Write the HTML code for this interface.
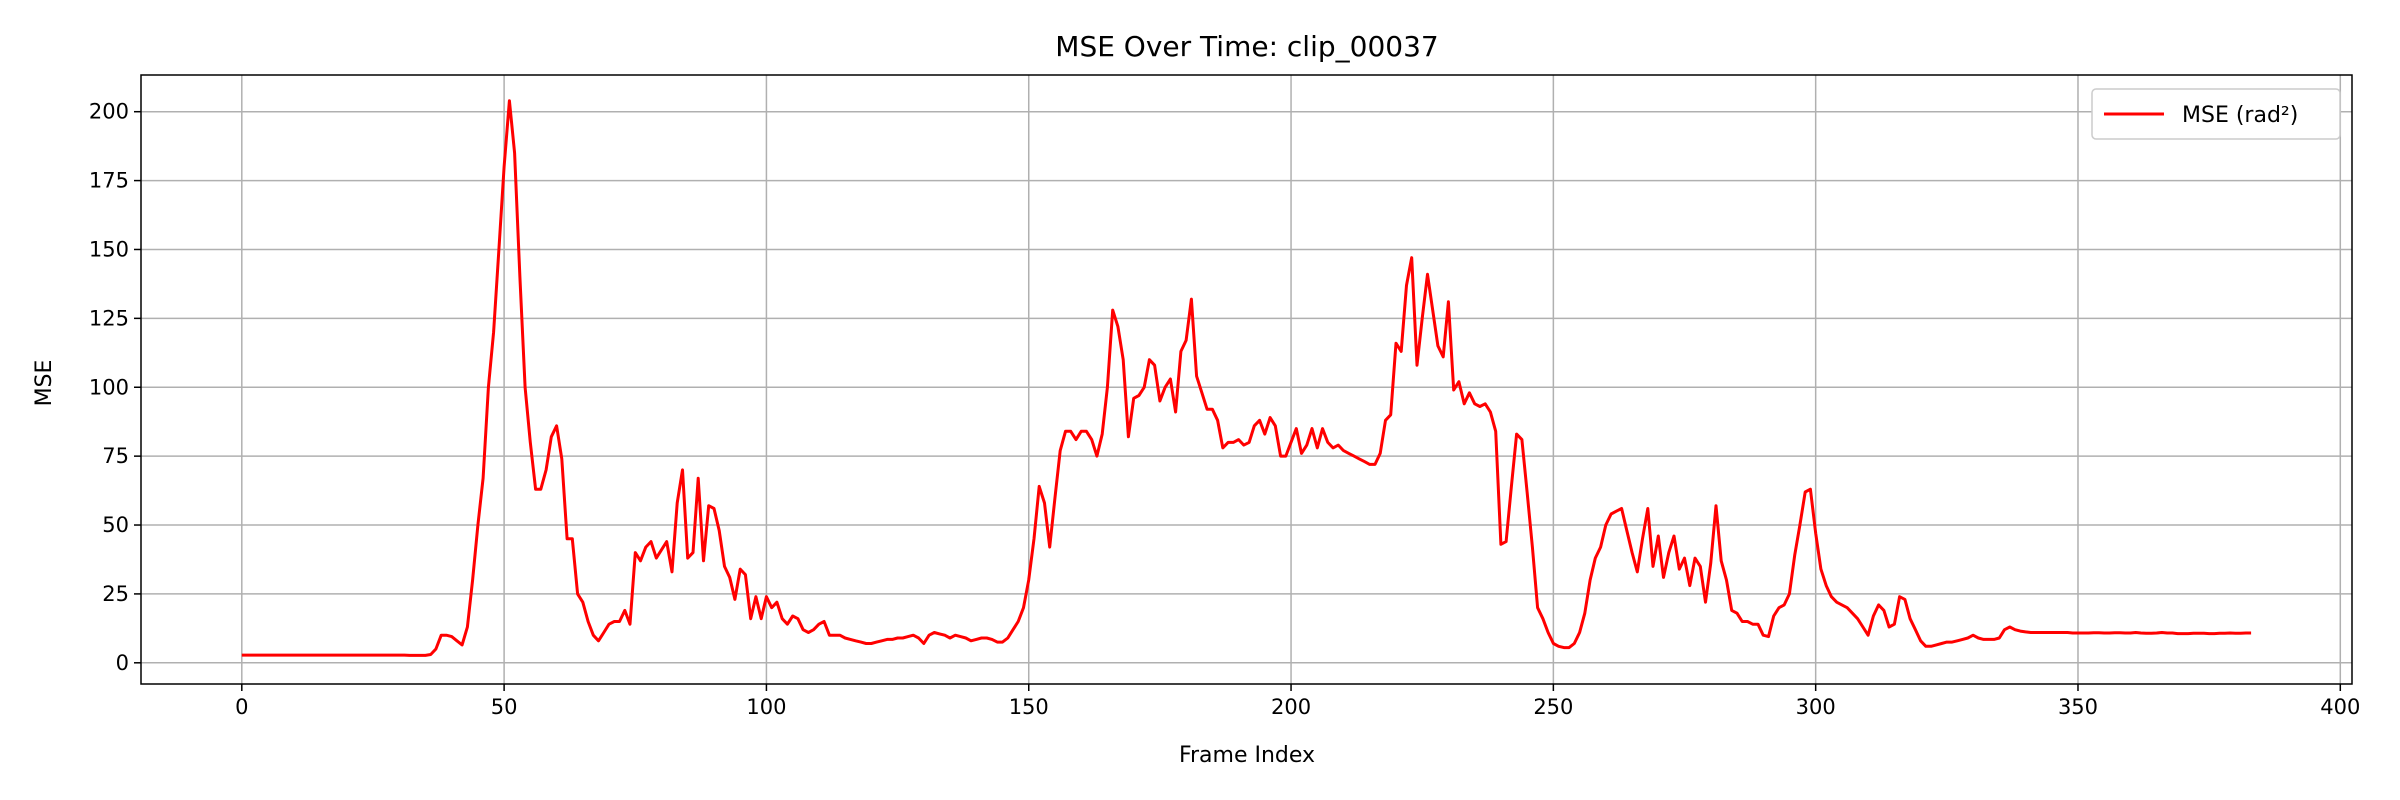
<!DOCTYPE html>
<html><head><meta charset="utf-8"><style>
html,body{margin:0;padding:0;background:#fff;}
svg{display:block;font-family:"DejaVu Sans","Liberation Sans",sans-serif;}
</style></head><body>
<svg id="chart" width="2400" height="800">
<text x="1247" y="56" font-size="28" text-anchor="middle">MSE Over Time: clip_00037</text>
<g id="grid"></g>
<g id="ticks"></g>
<polyline id="line" fill="none" stroke="#ff0000" stroke-width="3" stroke-linejoin="round"/>
<rect x="141" y="75" width="2211" height="609" fill="none" stroke="#000" stroke-width="1.5"/>
<text x="1247" y="762" font-size="22" text-anchor="middle">Frame Index</text>
<text x="0" y="0" font-size="22" text-anchor="middle" transform="translate(51,383) rotate(-90)">MSE</text>
<g>
<rect x="2092" y="89" width="248" height="50" rx="4" fill="#fff" stroke="#ccc" stroke-width="1.5"/>
<line x1="2104" y1="114" x2="2164" y2="114" stroke="#ff0000" stroke-width="3"/>
<text x="2182" y="122" font-size="22">MSE (rad²)</text>
</g>
</svg>
<script>
const xTicks=[0,50,100,150,200,250,300,350,400];
const yTicks=[0,25,50,75,100,125,150,175,200];
const mse=[2.8,2.8,2.8,2.8,2.8,2.8,2.8,2.8,2.8,2.8,2.8,2.8,2.8,2.8,2.8,2.8,2.8,2.8,2.8,2.8,2.8,2.8,2.8,2.8,2.8,2.8,2.8,2.8,2.8,2.8,2.8,2.8,2.7,2.7,2.7,2.7,
3,5,10,10,9.5,8,6.5,13,30,50,67,100,120,150,180,204,185,140,100,80,63,63,70,82,86,74,45,45,25,22,15,10,8,11,14,15,15,19,14,
40,37,42,44,38,41,44,33,58,70,38,40,67,37,57,56,48,35,31,23,34,32,16,24,16,24,20,22,16,14,17,16,12,11,12,14,15,10,10,10,9,8.5,8,7.5,7,7,7.5,8,8.5,8.5,9,9,9.5,10,9,7,10,11,10.5,10,9,10,9.5,9,8,8.5,9,9,8.5,7.5,7.5,9,12,15,20,30,
45,64,58,42,60,77,84,84,81,84,84,81,75,83,100,128,122,110,82,96,97,100,110,108,95,100,103,91,113,117,132,104,98,92,92,88,78,80,80,81,79,80,86,88,83,89,86,75,75,80,85,76,79,85,78,85,80,78,79,77,76,75,74,73,72,72,76,88,90,116,113,137,147,108,125,141,128,115,111,131,99,102,94,98,94,93,94,91,84,43,44,64,83,81,62,42,20,16,11,7,6,5.5,5.5,7,11,18,30,38,42,50,54,55,56,48,40,33,45,56,35,46,31,40,46,34,38,28,38,35,22,36,57,37,30,19,18,15,15,14,14,10,9.5,17,20,21,25,39,50,62,63,47,34,28,24,22,21,20,18,16,13,10,17,21,19,13,14,24,23,16,12,8,6,6,6.5,7,7.5,7.5,8,8.5,9,10,9,8.5,8.5,8.5,9,12,13,12,11.5,11.2,11,11,11,11,11,11,11,11,10.8,10.8,10.8,10.8,10.9,10.9,10.8,10.8,10.9,10.9,10.8,10.8,11,10.8,10.7,10.7,10.8,11,10.8,10.8,10.6,10.6,10.6,10.7,10.7,10.7,10.6,10.6,10.7,10.7,10.8,10.7,10.7,10.8,10.8];
const L=141,R=2352,T=75,B=684;
const xs=f=>241.8+(f/400)*(2340.3-241.8);
const ys=v=>662.8-(v/200)*(662.8-111.7);
const ns="http://www.w3.org/2000/svg";
const grid=document.getElementById('grid'),ticks=document.getElementById('ticks');
xTicks.forEach(t=>{const x=xs(t);
 const g=document.createElementNS(ns,'line');g.setAttribute('x1',x);g.setAttribute('x2',x);g.setAttribute('y1',T);g.setAttribute('y2',B);g.setAttribute('stroke','#b0b0b0');g.setAttribute('stroke-width','1.5');
 
 grid.appendChild(g);
 const k=document.createElementNS(ns,'line');k.setAttribute('x1',x);k.setAttribute('x2',x);k.setAttribute('y1',B);k.setAttribute('y2',B+7);k.setAttribute('stroke','#000');k.setAttribute('stroke-width','1.5');
 
 ticks.appendChild(k);
 const tx=document.createElementNS(ns,'text');tx.setAttribute('x',x);tx.setAttribute('y',B+30);tx.setAttribute('font-size','21');tx.setAttribute('text-anchor','middle');tx.textContent=t;
 
 ticks.appendChild(tx);});
yTicks.forEach(t=>{const y=ys(t);
 const g=document.createElementNS(ns,'line');g.setAttribute('x1',L);g.setAttribute('x2',R);g.setAttribute('y1',y);g.setAttribute('y2',y);g.setAttribute('stroke','#b0b0b0');g.setAttribute('stroke-width','1.5');
 
 grid.appendChild(g);
 const k=document.createElementNS(ns,'line');k.setAttribute('x1',L-7);k.setAttribute('x2',L);k.setAttribute('y1',y);k.setAttribute('y2',y);k.setAttribute('stroke','#000');k.setAttribute('stroke-width','1.5');
 
 ticks.appendChild(k);
 const tx=document.createElementNS(ns,'text');tx.setAttribute('x',L-12);tx.setAttribute('y',y+7);tx.setAttribute('font-size','21');tx.setAttribute('text-anchor','end');tx.textContent=t;
 
 ticks.appendChild(tx);});
document.getElementById('line').setAttribute('points',mse.map((v,i)=>xs(i).toFixed(1)+','+ys(v).toFixed(1)).join(' '));
</script>
</body></html>
